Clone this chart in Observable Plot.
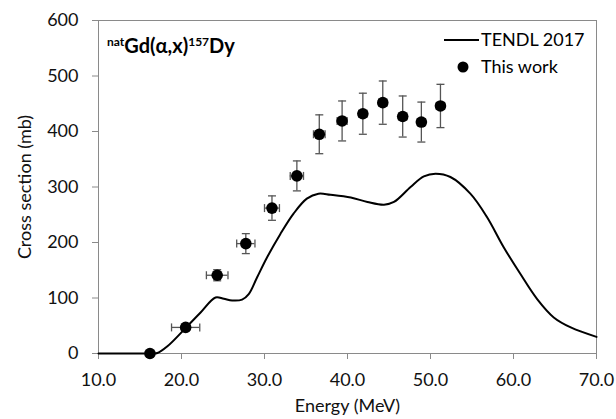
<!DOCTYPE html>
<html><head><meta charset="utf-8">
<script src="https://cdn.jsdelivr.net/npm/d3@7"></script>
<script src="https://cdn.jsdelivr.net/npm/@observablehq/plot@0.6"></script>
<style>
body{margin:0;background:#fff}
</style>
</head><body><div id="chart"></div>
<script>
// Experimental points ("This work")
const energy = [16.2, 20.5, 24.3, 27.75, 30.9, 33.9, 36.6, 39.35, 41.85, 44.25, 46.65, 48.9, 51.2];
const xsec   = [0, 47, 141, 198, 262, 320, 395, 419, 432, 452, 427, 417, 446];
const dEnergy = [0, 1.7, 1.3, 1.1, 0.9, 0.8, 0.7, 0.6, 0.5, 0.5, 0.5, 0.5, 0.5];
const dXsec   = [0, 0, 10, 18, 22, 27, 35, 36, 37, 39, 37, 36, 39];

// TENDL 2017 curve
const tendlE  = [10, 14, 16.5, 17.1, 18.3, 20.5, 22.3, 24.1, 25.1, 26.1, 27.3, 28.1, 29.1, 30.3, 31.9, 33.5, 35.1, 36.5, 37.95, 40.4, 42.4, 44.4, 45.6, 47.6, 49.2, 50.6, 52.4, 54.8, 56.8, 58.8, 60.8, 62.85, 64.85, 66.9, 70];
const tendlXs = [0, 0, 0, 1, 13, 46, 74, 101, 98.5, 95.5, 97, 107, 137, 173, 215, 252, 279, 288, 286, 281, 273, 268, 273, 300, 319, 324, 318, 288, 246, 192, 144, 98, 65, 47, 30];

const xTicks = [10, 20, 30, 40, 50, 60, 70];
const yTicks = [0, 100, 200, 300, 400, 500, 600];
const xLabel = "Energy (MeV)";
const yLabel = "Cross section (mb)";
const legendLabels = ["TENDL 2017", "This work"];

const points = energy.map((E, i) => ({E, v: xsec[i], dE: dEnergy[i], dv: dXsec[i]}));
const tendl = tendlE.map((E, i) => ({E, xs: tendlXs[i]}));

const capH = {draw(ctx, size) { const r = Math.sqrt(size / Math.PI); ctx.moveTo(-r, 0); ctx.lineTo(r, 0); }};
const capV = {draw(ctx, size) { const r = Math.sqrt(size / Math.PI); ctx.moveTo(0, -r); ctx.lineTo(0, r); }};
const errCol = "#555";
const yErr = points.filter(d => d.dv > 0);
const xErr = points.filter(d => d.dE > 0);
const ff = "Lato, 'Open Sans', sans-serif";

const plot = Plot.plot({
  width: 616, height: 419,
  marginLeft: 98, marginRight: 20, marginTop: 20, marginBottom: 66,
  style: {fontFamily: ff, fontSize: "18px", color: "#111", background: "#fff"},
  x: {domain: [10, 70]},
  y: {domain: [0, 600]},
  marks: [
    Plot.frame({stroke: "#8a8a8a"}),
    Plot.axisX({ticks: xTicks, tickFormat: d3.format(".1f"), tickSize: 6, tickPadding: 14, stroke: "#8a8a8a",
      label: xLabel, labelAnchor: "center", labelOffset: 58, labelArrow: "none", fontSize: 18}),
    Plot.axisY({ticks: yTicks, tickSize: 6, tickPadding: 14, stroke: "#8a8a8a",
      label: yLabel, labelAnchor: "center", labelOffset: 80, labelArrow: "none", fontSize: 18}),
    Plot.line(tendl, {x: "E", y: "xs", curve: "catmull-rom", stroke: "#000", strokeWidth: 2}),
    Plot.ruleX(yErr, {x: "E", y1: d => d.v - d.dv, y2: d => d.v + d.dv, stroke: errCol, strokeWidth: 1.3}),
    Plot.dot(yErr, {x: "E", y: d => d.v - d.dv, symbol: capH, r: 4, stroke: errCol, strokeWidth: 1.3}),
    Plot.dot(yErr, {x: "E", y: d => d.v + d.dv, symbol: capH, r: 4, stroke: errCol, strokeWidth: 1.3}),
    Plot.ruleY(xErr, {y: "v", x1: d => d.E - d.dE, x2: d => d.E + d.dE, stroke: errCol, strokeWidth: 1.3}),
    Plot.dot(xErr, {x: d => d.E - d.dE, y: "v", symbol: capV, r: 4, stroke: errCol, strokeWidth: 1.3}),
    Plot.dot(xErr, {x: d => d.E + d.dE, y: "v", symbol: capV, r: 4, stroke: errCol, strokeWidth: 1.3}),
    Plot.dot(points, {x: "E", y: "v", r: 5.8, fill: "#000", stroke: "none"})
  ]
});
document.getElementById("chart").appendChild(plot);

// Title and legend overlaid inside the frame
const svg = d3.select(plot);
const title = svg.append("text").attr("x", 107).attr("y", 53).attr("text-anchor", "start")
  .attr("font-family", ff).attr("font-weight", "bold").attr("font-size", 20).attr("fill", "#000");
title.append("tspan").attr("font-size", 12).attr("dy", -7).text("nat");
title.append("tspan").attr("dy", 7).text("Gd(α,x)");
title.append("tspan").attr("font-size", 12).attr("dy", -7).text("157");
title.append("tspan").attr("dy", 7).text("Dy");

const lg = svg.append("g").attr("font-family", ff).attr("font-size", 18).attr("fill", "#000").attr("text-anchor", "start");
lg.append("line").attr("x1", 444).attr("x2", 479).attr("y1", 40).attr("y2", 40).attr("stroke", "#000").attr("stroke-width", 1.8);
lg.append("text").attr("x", 481).attr("y", 40).attr("dy", "0.35em").text(legendLabels[0]);
lg.append("circle").attr("cx", 463).attr("cy", 67).attr("r", 5.5).attr("fill", "#000");
lg.append("text").attr("x", 481).attr("y", 67).attr("dy", "0.35em").text(legendLabels[1]);
</script></body></html>
